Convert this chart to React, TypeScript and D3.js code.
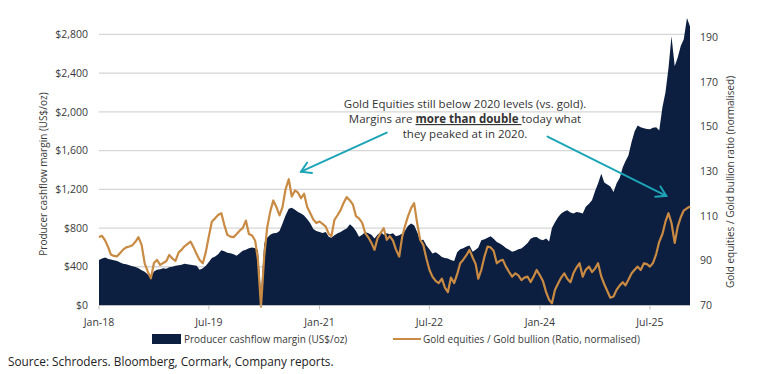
import * as d3 from "d3"

// half-monthly readings, Jan-18 to mid Jan-26
const margin = [
  470, 485, 496, 480, 475, 468, 460, 445, 430, 425, 415, 405, 398, 385, 365, 348,
  320, 290, 350, 370, 375, 385, 380, 395, 400, 410, 415, 420, 430, 425, 420, 415,
  410, 370, 385, 410, 450, 490, 505, 530, 570, 560, 545, 540, 530, 515, 540, 565,
  575, 590, 600, 590, 570, 120, 640, 700, 730, 745, 750, 770, 846, 930, 1000, 1010,
  990, 966, 950, 930, 890, 850, 790, 770, 760, 750, 760, 710, 700, 726, 745, 760,
  780, 795, 839, 810, 770, 710, 730, 760, 745, 730, 692, 730, 760, 730, 745, 735,
  745, 716, 726, 743, 770, 820, 846, 830, 760, 674, 680, 620, 580, 537, 550, 530,
  502, 490, 485, 470, 460, 550, 580, 590, 610, 620, 554, 575, 600, 674, 685, 700,
  716, 690, 657, 640, 620, 595, 575, 554, 565, 580, 589, 615, 645, 690, 705, 708,
  685, 675, 692, 660, 800, 860, 914, 950, 970, 983, 960, 949, 966, 960, 950, 1020,
  1050, 1086, 1180, 1260, 1361, 1270, 1250, 1230, 1172, 1260, 1320, 1429, 1490, 1550, 1690, 1800,
  1858, 1841, 1830, 1824, 1820, 1835, 1841, 1807, 2047, 2200, 2450, 2780, 2470, 2560, 2680, 2750,
  2970, 2880,
]

const ratio = [
  100.6, 101.2, 99, 96, 92.8, 92.2, 92, 93.5, 95, 96, 96.4, 97, 98.5, 100.6, 97, 88.9,
  85, 82.2, 89, 90.4, 88.2, 89, 89.8, 92.6, 91, 90, 93.8, 95, 96.4, 97.5, 98.6, 96,
  93, 90.4, 88.9, 94, 101, 107.6, 109, 110.5, 111.3, 106, 101.6, 100.8, 100.6, 102, 103.5, 104.6,
  108, 102, 101.3, 99, 90.4, 69.5, 92, 105, 112, 117, 114, 110.3, 114, 122, 126.5, 118.8,
  121.5, 120.5, 118, 120, 114, 111.3, 108.5, 106.9, 107.6, 106.5, 105.3, 102, 101, 108.3, 110.5, 112.8,
  116, 118.5, 117, 115.1, 110, 109, 107, 102.4, 100.4, 98, 94.9, 100, 102.5, 104.6, 99.4, 101,
  99, 95, 91.9, 100.9, 105.3, 109.8, 113.6, 115.8, 106.9, 99.4, 97, 91, 86, 82.9, 81, 80,
  82, 78, 76, 82.5, 80, 84, 88.9, 90.5, 92.5, 94.9, 91.5, 88.5, 82, 86, 92, 96.4,
  96, 94.5, 88.9, 90, 90.4, 87.4, 85, 82.9, 84.4, 83.5, 81.4, 82.5, 82.9, 80.5, 83, 85.9,
  83.5, 81, 76, 72.5, 71, 77, 80, 82.5, 84.4, 82, 80.4, 84.5, 87, 88.9, 82.9, 86,
  87.4, 85, 86.5, 88.9, 83, 79.5, 76.5, 73.5, 74, 77, 79, 80.4, 79, 81.5, 84.4, 86,
  87.4, 85.9, 88.9, 88.5, 87.4, 89, 93, 98.5, 102, 107.5, 111.3, 106.9, 98, 105.3, 109.5, 112.5,
  113.5, 114.3,
]

const xTickLabels = ["Jan-18", "Jul-19", "Jan-21", "Jul-22", "Jan-24", "Jul-25"]
const leftTicks = [0, 400, 800, 1200, 1600, 2000, 2400, 2800]
const rightTicks = [70, 90, 110, 130, 150, 170, 190]

const noteLines = [
  "Gold Equities still below 2020 levels (vs. gold).",
  "Margins are |more than double |today what",
  "they peaked at in 2020.",
]

// arrows in data space: [date, ratio]
const arrows = [
  { from: ["2021-12-01", 147.4], to: ["2020-10-01", 129.9] },
  { from: ["2024-02-08", 145.6], to: ["2025-09-20", 119.1] },
]

const NAVY = "#0c1f40"
const ORANGE = "#c98a43"
const TEAL = "#1da4b7"
const GRID = "#d6d6d6"
const TEXT = "#3a3a3a"
const FONT = "'Open Sans', 'Noto Sans', sans-serif"

export default function App() {
  const W = 760
  const H = 374
  const left = 99
  const right = 690
  const top = 15
  const bottom = 305.5

  const dates = margin.map(
    (_, i) => new Date(Date.UTC(2018, Math.floor(i / 2), i % 2 ? 16 : 1))
  )

  const x = d3
    .scaleUtc()
    .domain([dates[0], dates[dates.length - 1]])
    .range([left, right])
  const yL = d3.scaleLinear().domain([0, 3000]).range([bottom, top])
  const yR = d3.scaleLinear().domain([70, 200]).range([bottom, top])

  const area = d3
    .area<number>()
    .x((_, i) => x(dates[i]))
    .y0(bottom)
    .y1((d) => yL(d))
  const line = d3
    .line<number>()
    .x((_, i) => x(dates[i]))
    .y((d) => yR(d))

  const parseTick = d3.utcParse("%b-%y")
  const parseDay = d3.utcParse("%Y-%m-%d")
  const fmt = d3.format("$,.0f")

  const noteX = 465
  const noteY = [104, 119, 134]

  return (
    <svg
      width={W}
      height={H}
      style={{ position: "absolute", left: 0, top: 0, background: "#fff" }}
      fontFamily={FONT}
    >
      {leftTicks.slice(1).map((t) => (
        <line
          key={t}
          x1={left}
          x2={right}
          y1={yL(t)}
          y2={yL(t)}
          stroke={GRID}
          strokeWidth={1.3}
        />
      ))}

      <path d={area(margin) ?? undefined} fill={NAVY} />
      <path
        d={line(ratio) ?? undefined}
        fill="none"
        stroke={ORANGE}
        strokeWidth={2.2}
        strokeLinejoin="round"
      />

      <line x1={left} x2={right} y1={bottom} y2={bottom} stroke="#bdbdbd" strokeWidth={1} />
      {xTickLabels.map((l) => {
        const px = x(parseTick(l) as Date)
        return (
          <g key={l}>
            <line x1={px} x2={px} y1={bottom} y2={bottom + 4} stroke="#bdbdbd" />
            <text x={px} y={322} textAnchor="middle" dy="0.35em" fontSize={10.5} fill={TEXT}>
              {l}
            </text>
          </g>
        )
      })}

      {leftTicks.map((t) => (
        <text key={t} x={88} y={yL(t)} dy="0.35em" textAnchor="end" fontSize={10.5} fill={TEXT}>
          {fmt(t)}
        </text>
      ))}
      {rightTicks.map((t) => (
        <text key={t} x={700} y={yR(t)} dy="0.35em" fontSize={10.5} fill={TEXT}>
          {t}
        </text>
      ))}

      <text
        transform={`translate(43,174) rotate(-90)`}
        textAnchor="middle"
        dy="0.35em"
        fontSize={10}
        fill={TEXT}
      >
        Producer cashflow margin (US$/oz)
      </text>
      <text
        transform={`translate(730,182) rotate(-90)`}
        textAnchor="middle"
        dy="0.35em"
        fontSize={10}
        fill={TEXT}
      >
        Gold equities / Gold bullion ratio (normalised)
      </text>

      {noteLines.map((l, i) => {
        const parts = l.split("|")
        return (
          <text key={i} x={noteX} y={noteY[i]} dy="0.35em" textAnchor="middle" fontSize={11.5} fill="#333">
            {parts.map((p, j) => (
              <tspan
                key={j}
                fontWeight={j === 1 ? 700 : 400}
                style={j === 1 ? { textDecoration: "underline" } : undefined}
              >
                {p}
              </tspan>
            ))}
          </text>
        )
      })}

      {arrows.map((a, i) => {
        const x1 = x(parseDay(a.from[0] as string) as Date)
        const y1 = yR(a.from[1] as number)
        const x2 = x(parseDay(a.to[0] as string) as Date)
        const y2 = yR(a.to[1] as number)
        const ang = Math.atan2(y2 - y1, x2 - x1)
        const len = 11
        const spread = 0.55
        const h1 = [x2 - len * Math.cos(ang - spread), y2 - len * Math.sin(ang - spread)]
        const h2 = [x2 - len * Math.cos(ang + spread), y2 - len * Math.sin(ang + spread)]
        return (
          <g key={i} stroke={TEAL} strokeWidth={2} fill="none" strokeLinecap="round">
            <line x1={x1} y1={y1} x2={x2} y2={y2} />
            <path d={`M${h1[0]},${h1[1]}L${x2},${y2}L${h2[0]},${h2[1]}`} />
          </g>
        )
      })}

      <rect x={152} y={334} width={29} height={10} fill={NAVY} />
      <text x={184} y={339} dy="0.35em" fontSize={10} fill={TEXT}>
        Producer cashflow margin (US$/oz)
      </text>
      <line x1={393} x2={421} y1={339} y2={339} stroke={ORANGE} strokeWidth={2} />
      <text x={423} y={339} dy="0.35em" fontSize={10} fill={TEXT}>
        Gold equities / Gold bullion (Ratio, normalised)
      </text>

      <text x={8} y={362} dy="0.35em" fontSize={11.8} fill="#222">
        Source: Schroders. Bloomberg, Cormark, Company reports.
      </text>
    </svg>
  )
}
